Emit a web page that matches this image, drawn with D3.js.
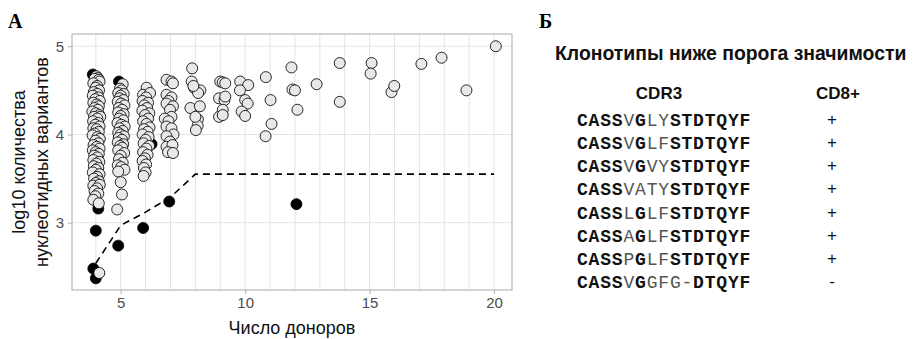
<!DOCTYPE html>
<html lang="ru">
<head>
<meta charset="utf-8">
<title>Клонотипы</title>
<script src="https://cdn.jsdelivr.net/npm/d3@7"></script>
<style>
  body { margin: 0; background: #fff; }
  svg { display: block; }
</style>
</head>
<body>
<script>
// --- data ---
// gray points: [donors (jittered), log10 variants]
var grayD4 = [[4.02,4.66],[4.08,4.64],[3.95,4.63],[4.12,4.62],[4.15,4.6],[3.9,4.58],[4.05,4.55],[4.0,4.53],
  [4.13,4.5],[3.92,4.48],[4.06,4.46],[3.88,4.44],[4.1,4.42],[3.98,4.4],[4.16,4.38],[3.9,4.36],[4.04,4.34],
  [4.12,4.32],[3.95,4.3],[4.08,4.28],[3.86,4.26],[4.0,4.24],[4.14,4.22],[3.93,4.2],[4.18,4.2],[4.06,4.18],
  [3.89,4.15],[4.1,4.13],[3.98,4.11],[4.15,4.09],[3.9,4.07],[4.03,4.06],[4.12,4.03],[3.95,4.01],[3.87,3.99],
  [4.07,3.97],[4.16,3.95],[3.99,3.93],[4.1,3.9],[3.91,3.88],[4.04,3.86],[4.15,3.84],[3.88,3.82],[4.0,3.8],
  [4.12,3.78],[3.94,3.76],[4.06,3.74],[3.9,3.71],[4.14,3.69],[4.02,3.67],[3.92,3.64],[4.1,3.62],[4.0,3.6],
  [3.88,3.57],[4.15,3.55],[4.05,3.52],[3.93,3.5],[4.12,3.47],[4.0,3.45],[3.9,3.42],[4.16,3.43],[4.05,3.39],
  [3.95,3.36],[4.1,3.33],[3.98,3.3],[3.9,3.26],[4.12,3.22],[4.14,2.43]];
var grayD5 = [[5.08,4.57],[4.97,4.52],[5.04,4.5],[4.9,4.47],[5.12,4.46],[5.0,4.44],[4.95,4.41],[5.1,4.39],
  [4.88,4.37],[5.02,4.35],[5.15,4.33],[4.93,4.3],[5.06,4.28],[4.9,4.25],[5.12,4.23],[5.0,4.21],[4.94,4.18],
  [5.1,4.16],[4.87,4.13],[5.03,4.11],[5.16,4.09],[4.96,4.07],[5.08,4.04],[4.9,4.02],[5.0,4.0],[5.13,3.98],
  [4.92,3.96],[5.05,3.94],[4.88,3.91],[5.1,3.89],[4.98,3.87],[5.06,3.85],[4.9,3.82],[5.14,3.79],[5.0,3.76],
  [4.93,3.72],[5.08,3.68],[4.88,3.65],[5.02,3.63],[5.15,3.6],[4.9,3.58],[5.0,3.46],[5.05,3.32],[4.86,3.15]];
var grayD6 = [[6.04,4.53],[5.9,4.45],[6.18,4.47],[6.02,4.42],[5.88,4.38],[6.1,4.36],[5.95,4.33],[6.06,4.3],
  [5.87,4.27],[6.15,4.24],[5.98,4.22],[6.1,4.18],[5.9,4.15],[6.04,4.12],[6.16,4.08],[5.94,4.06],[6.08,4.03],
  [5.88,4.0],[6.12,3.97],[6.0,3.94],[5.92,3.9],[6.14,3.87],[6.03,3.84],[5.9,3.8],[6.08,3.77],[5.97,3.73],
  [5.88,3.7],[6.02,3.66],[5.93,3.62],[6.0,3.57],[5.92,3.53]];
var grayD7 = [[6.84,4.62],[7.04,4.6],[7.1,4.58],[6.84,4.45],[7.04,4.42],[6.92,4.38],[6.84,4.35],[7.1,4.32],
  [6.98,4.28],[7.04,4.2],[6.77,4.18],[6.92,4.15],[6.84,4.09],[7.04,4.07],[7.12,4.0],[6.84,3.98],[6.98,3.92],
  [6.84,3.86],[7.08,3.88],[6.9,3.8],[7.1,3.79]];
var grayD8to10 = [[7.87,4.75],[7.85,4.6],[7.95,4.53],[8.2,4.5],[8.11,4.47],[7.92,4.55],[7.8,4.3],[8.18,4.32],
  [8.1,4.17],[8.09,4.1],[8.02,4.05],[8.0,4.2],
  [9.0,4.6],[9.1,4.59],[9.2,4.58],[8.95,4.41],[9.17,4.39],[9.2,4.43],[9.1,4.28],[8.95,4.2],[9.1,4.22],
  [9.8,4.6],[10.12,4.56],[9.79,4.5],[10.0,4.39],[10.1,4.35],[9.86,4.26],[10.0,4.21]];
var grayRest = [[10.83,4.65],[11.02,4.39],[11.06,4.12],[10.82,3.98],[11.86,4.76],[11.9,4.51],[12.0,4.5],
  [12.1,4.28],[12.87,4.57],[13.8,4.81],[13.8,4.37],[15.08,4.81],[15.04,4.69],[15.88,4.48],[15.99,4.55],
  [17.08,4.8],[17.89,4.87],[18.89,4.5],[20.07,5.0]];
// black points (below threshold and others)
var blackPts = [[3.88,4.68],[4.93,4.6],[6.24,3.89],[4.1,3.16],[4.0,2.91],[4.9,2.74],[5.9,2.94],
  [6.95,3.24],[12.06,3.21],[3.9,2.48],[4.0,2.37]];
// significance threshold
var thrDonors = [4, 5, 6, 7, 8, 9, 10, 11, 12, 13, 14, 15, 16, 17, 18, 19, 20];
var thrLog    = [2.54, 2.97, 3.12, 3.29, 3.55, 3.55, 3.55, 3.55, 3.55, 3.55, 3.55, 3.55, 3.55, 3.55, 3.55, 3.55, 3.55];

var xTicks = [5, 10, 15, 20];
var yTicks = [3, 4, 5];

// panel Б
var cdr3 = ["CASSVGLYSTDTQYF", "CASSVGLFSTDTQYF", "CASSVGVYSTDTQYF", "CASSVATYSTDTQYF",
            "CASSLGLFSTDTQYF", "CASSAGLFSTDTQYF", "CASSPGLFSTDTQYF", "CASSVGGFG-DTQYF"];
var conserved = ["111101001111111", "111101001111111", "111101001111111", "111100001111111",
                 "111101001111111", "111101001111111", "111101001111111", "111101000011111"];
var cd8 = ["+", "+", "+", "+", "+", "+", "+", "-"];

// --- chart ---
var w = 913, h = 339;
var svg = d3.select("body").append("svg").attr("width", w).attr("height", h);

var x = d3.scaleLinear().domain([3.043, 20.72]).range([72, 512]);
var y = d3.scaleLinear().domain([2.237, 5.139]).range([290, 34]);

var panel = svg.append("g");
//grid
panel.selectAll("line.vg").data(d3.range(4, 21)).enter().append("line")
  .attr("x1", function(d) { return x(d); }).attr("x2", function(d) { return x(d); })
  .attr("y1", 34).attr("y2", 290)
  .attr("stroke", "#e3e3e3").attr("stroke-width", 1);
panel.selectAll("line.hg").data(yTicks).enter().append("line")
  .attr("y1", function(d) { return y(d); }).attr("y2", function(d) { return y(d); })
  .attr("x1", 72).attr("x2", 512)
  .attr("stroke", "#e3e3e3").attr("stroke-width", 1);

// threshold line
var line = d3.line()
  .x(function(d, i) { return x(thrDonors[i]); })
  .y(function(d) { return y(d); });
panel.append("path").datum(thrLog)
  .attr("d", line).attr("fill", "none")
  .attr("stroke", "#000").attr("stroke-width", 1.6)
  .attr("stroke-dasharray", "7,5");

//points
var r = 5.5;
panel.selectAll("circle.b").data(blackPts).enter().append("circle")
  .attr("cx", function(d) { return x(d[0]); })
  .attr("cy", function(d) { return y(d[1]); })
  .attr("r", r).attr("fill", "#000").attr("stroke", "#000").attr("stroke-width", 0.8);
var grayPts = grayD4.concat(grayD5, grayD6, grayD7, grayD8to10, grayRest);
panel.selectAll("circle.g").data(grayPts).enter().append("circle")
  .attr("cx", function(d) { return x(d[0]); })
  .attr("cy", function(d) { return y(d[1]); })
  .attr("r", r).attr("fill", "#e8e8e8").attr("stroke", "#111").attr("stroke-width", 0.9);

panel.append("rect").attr("x", 72).attr("y", 34).attr("width", 440).attr("height", 256)
  .attr("fill", "none").attr("stroke", "#b8b8b8").attr("stroke-width", 1.2);

// axes
var xAxis = svg.append("g").attr("transform", "translate(0,290)")
  .call(d3.axisBottom(x).tickValues(xTicks).tickFormat(d3.format("d")).tickSize(4).tickPadding(3));
var yAxis = svg.append("g").attr("transform", "translate(72,0)")
  .call(d3.axisLeft(y).tickValues(yTicks).tickFormat(d3.format("d")).tickSize(4).tickPadding(4));
[xAxis, yAxis].forEach(function(a) {
  a.select(".domain").remove();
  a.selectAll("line").attr("stroke", "#b3b3b3");
  a.selectAll("text").attr("fill", "#4d4d4d")
    .attr("font-family", "Liberation Sans, Arial, sans-serif").attr("font-size", "15px");
});

svg.append("text").attr("x", 292).attr("y", 334)
  .attr("text-anchor", "middle").attr("font-family", "Liberation Sans, Arial, sans-serif")
  .attr("font-size", "18px").attr("fill", "#111").text("Число доноров");
var ylab = svg.append("text").attr("transform", "translate(0,162) rotate(-90)")
  .attr("text-anchor", "middle").attr("font-family", "Liberation Sans, Arial, sans-serif")
  .attr("font-size", "18px").attr("fill", "#111");
ylab.append("tspan").attr("x", 0).attr("y", 25).text("log10 количества");
ylab.append("tspan").attr("x", 0).attr("y", 48).text("нуклеотидных вариантов");

svg.append("text").attr("x", 8).attr("y", 28)
  .attr("font-family", "Liberation Serif, Times New Roman, serif").attr("font-weight", "bold")
  .attr("font-size", "20px").text("A");
svg.append("text").attr("x", 539).attr("y", 28)
  .attr("font-family", "Liberation Serif, Times New Roman, serif").attr("font-weight", "bold")
  .attr("font-size", "20px").text("Б");

// panel Б table
var sans = "Liberation Sans, Arial, sans-serif";
svg.append("text").attr("x", 555).attr("y", 60)
  .attr("font-family", sans).attr("font-weight", "bold").attr("font-size", "19.4px")
  .attr("fill", "#111").text("Клонотипы ниже порога значимости");
svg.append("text").attr("x", 659).attr("y", 99).attr("text-anchor", "middle")
  .attr("font-family", sans).attr("font-weight", "bold").attr("font-size", "17px")
  .attr("fill", "#111").text("CDR3");
svg.append("text").attr("x", 838).attr("y", 99).attr("text-anchor", "middle")
  .attr("font-family", sans).attr("font-weight", "bold").attr("font-size", "17px")
  .attr("fill", "#111").text("CD8+");

var rowY = d3.scaleLinear().domain([0, cdr3.length - 1]).range([126, 288]);
var rows = svg.selectAll("text.seq").data(cdr3).enter().append("text")
  .attr("class", "seq")
  .attr("x", 577).attr("y", function(d, i) { return rowY(i); })
  .attr("font-family", "Courier New, Liberation Mono, monospace")
  .attr("font-size", "18px").attr("letter-spacing", "0.8px");
rows.each(function(s, i) {
  var t = d3.select(this);
  s.split("").forEach(function(c, j) {
    var b = conserved[i][j] === "1";
    t.append("tspan").text(c)
      .attr("font-weight", b ? "bold" : "normal")
      .attr("fill", b ? "#111" : "#555");
  });
});
svg.selectAll("text.cd8").data(cd8).enter().append("text")
  .attr("class", "cd8")
  .attr("x", 832).attr("y", function(d, i) { return rowY(i) - 1; })
  .attr("text-anchor", "middle").attr("font-family", sans).attr("font-size", "17px")
  .attr("fill", "#111").text(function(d) { return d; });
</script>
</body>
</html>
